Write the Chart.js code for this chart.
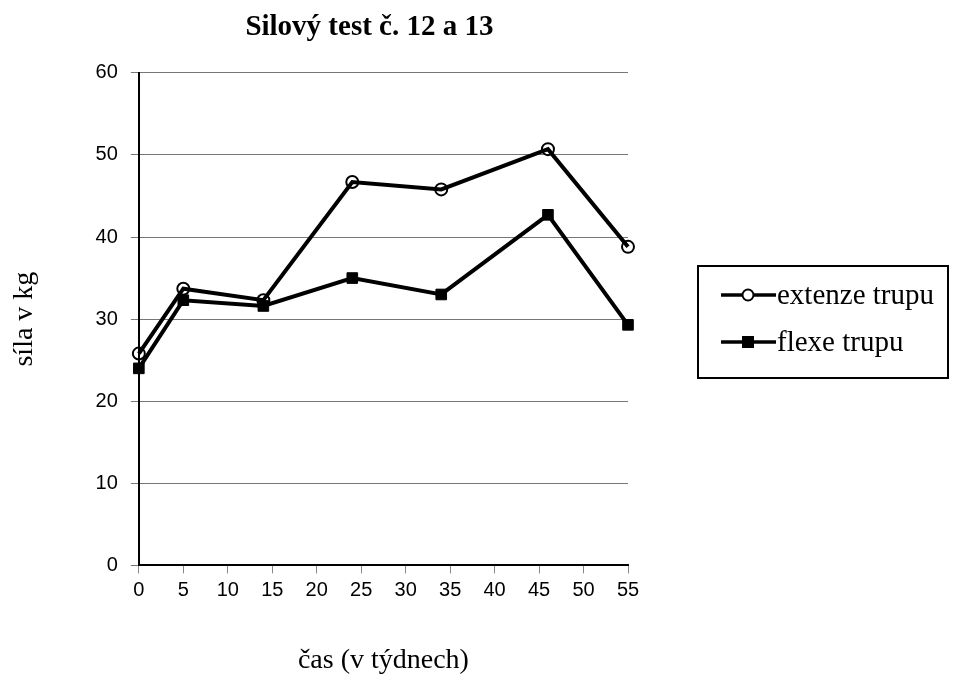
<!DOCTYPE html>
<html><head><meta charset="utf-8">
<script src="https://cdn.jsdelivr.net/npm/chart.js@4/dist/chart.umd.min.js"></script>
<style>html,body{margin:0;padding:0;background:#fff}#wrap{width:955px;height:679px}</style>
</head><body><div id="wrap"><canvas id="c" width="955" height="679"></canvas></div>
<script>
const weeks = [0, 5, 14, 24, 34, 46, 55];
const extenzeTrupu = [25.8, 33.7, 32.3, 46.7, 45.8, 50.7, 38.8];
const flexeTrupu = [24.0, 32.3, 31.6, 35.0, 33.0, 42.7, 29.3];
const seriesNames = ['extenze trupu', 'flexe trupu'];
const titleText = 'Silový test č. 12 a 13';
const xTitle = 'čas (v týdnech)';
const yTitle = 'síla v kg';

const SERIF = '"Liberation Serif", "Times New Roman", serif';
const SANS = '"Liberation Sans", Arial, sans-serif';
const toPts = (xs, ys) => xs.map((x, i) => ({x, y: ys[i]}));

const titleShift = {
  id: 'titleShift',
  afterLayout(chart) {
    const t = chart.titleBlock;
    if (t) { t.left -= 14; t.right -= 14; }
  }
};

const legendPlugin = {
  id: 'boxLegend',
  afterDraw(chart) {
    const ctx = chart.ctx;
    const bx = 698, by = 266, bw = 250, bh = 112;
    ctx.save();
    ctx.strokeStyle = '#000';
    ctx.lineWidth = 2;
    ctx.strokeRect(bx, by, bw, bh);
    const rows = [295, 342];
    chart.data.datasets.forEach((ds, i) => {
      const y = rows[i];
      ctx.beginPath();
      ctx.lineWidth = 3.5;
      ctx.strokeStyle = '#000';
      ctx.moveTo(721, y);
      ctx.lineTo(776, y);
      ctx.stroke();
      ctx.lineWidth = 2;
      ctx.beginPath();
      if (ds.pointStyle === 'circle') {
        ctx.fillStyle = '#fff';
        ctx.arc(748, y, 5.5, 0, Math.PI * 2);
      } else {
        ctx.fillStyle = '#000';
        ctx.rect(743, y - 5, 10, 10);
      }
      ctx.fill(); ctx.stroke();
      ctx.fillStyle = '#000';
      ctx.font = '29px ' + SERIF;
      ctx.textBaseline = 'middle';
      ctx.textAlign = 'left';
      ctx.fillText(ds.label, 777, y + 1);
    });
    ctx.restore();
  }
};

new Chart(document.getElementById('c'), {
  type: 'line',
  data: {
    datasets: [
      {
        label: seriesNames[0],
        data: toPts(weeks, extenzeTrupu),
        borderColor: '#000',
        borderWidth: 4,
        pointStyle: 'circle',
        pointRadius: 6,
        pointBorderWidth: 2,
        pointBackgroundColor: 'rgba(255,255,255,0)',
        pointBorderColor: '#000',
        tension: 0,
        clip: false
      },
      {
        label: seriesNames[1],
        data: toPts(weeks, flexeTrupu),
        borderColor: '#000',
        borderWidth: 4,
        pointStyle: 'rect',
        pointRadius: 7.5,
        pointBorderWidth: 1,
        pointBackgroundColor: '#000',
        pointBorderColor: '#000',
        tension: 0,
        clip: false
      }
    ]
  },
  options: {
    responsive: false,
    animation: false,
    devicePixelRatio: 1,
    layout: { padding: { left: 4, right: 327, top: 6, bottom: 2 } },
    plugins: {
      legend: { display: false },
      tooltip: { enabled: false },
      title: {
        display: true,
        text: titleText,
        fullSize: false,
        color: '#000',
        font: { family: SERIF, size: 29, weight: 'bold' },
        padding: { top: 4, bottom: 28 }
      }
    },
    scales: {
      x: {
        type: 'linear',
        min: 0, max: 55,
        ticks: { stepSize: 5, color: '#000', font: { family: SANS, size: 20 }, padding: 5 },
        grid: { display: true, drawOnChartArea: false, drawTicks: true, tickLength: 8, color: '#888' },
        border: { display: true, color: '#000', width: 2 },
        title: { display: true, text: xTitle, color: '#000', font: { family: SERIF, size: 28 }, padding: { top: 36, bottom: 0 } }
      },
      y: {
        min: 0, max: 60,
        ticks: { stepSize: 10, color: '#000', font: { family: SANS, size: 20 }, padding: 13 },
        grid: { color: '#777', lineWidth: 1, tickLength: 8, drawTicks: true },
        border: { display: true, color: '#000', width: 2 },
        title: { display: true, text: yTitle, color: '#000', font: { family: SERIF, size: 28 }, padding: { top: 4, bottom: 41 } }
      }
    }
  },
  plugins: [titleShift, legendPlugin]
});
</script>
</body></html>
